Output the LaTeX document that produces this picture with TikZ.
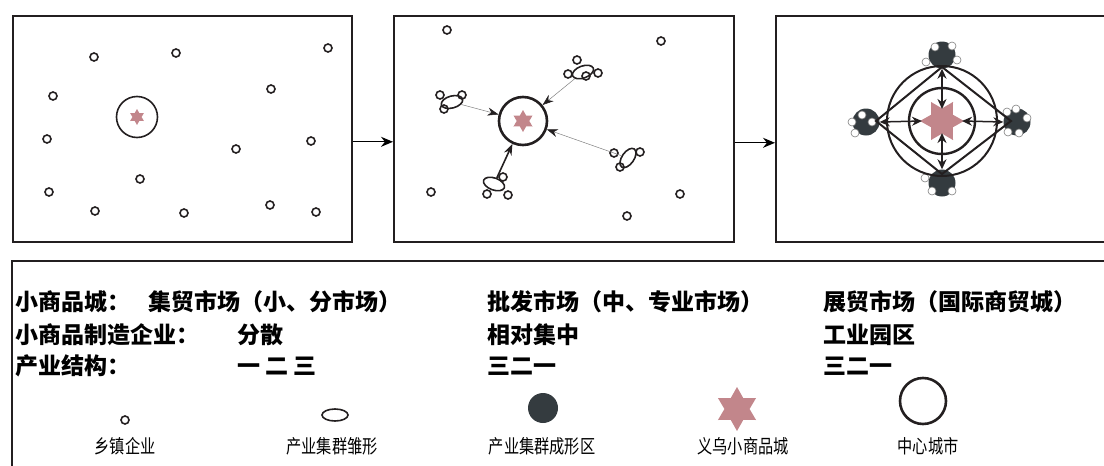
\documentclass[tikz,border=0pt]{standalone}
\usepackage{fontspec}
\newfontfamily\cjk{Noto Sans CJK SC}
\newfontfamily\cjkthin[FakeStretch=0.8]{Noto Sans CJK SC}
\usetikzlibrary{shapes,shapes.geometric,arrows,arrows.meta,positioning}

\definecolor{ink}{HTML}{231F20}
\definecolor{rose}{HTML}{C2868B}
\definecolor{slate}{HTML}{343B3F}

\begin{document}
\begin{tikzpicture}[%
    x=1pt, y=-1pt,
    >=stealth,
    panel/.style={draw=ink, line width=1.6pt, anchor=north west, inner sep=0,
      minimum width=339pt, minimum height=226pt},
    town/.style={circle, draw=ink, line width=1.6pt, minimum size=8pt, inner sep=0},
    hub/.style={circle, draw=ink, inner sep=0},
    yiwu/.style={star, star points=6, star point ratio=1.75, fill=rose, inner sep=0},
    embryo/.style={ellipse, draw=ink, line width=1.6pt, minimum width=22pt,
      minimum height=12pt, inner sep=0},
    cluster/.style={circle, fill=slate, minimum size=27pt, inner sep=0},
    dot/.style={circle, draw=gray, fill=white, line width=0.6pt, minimum size=8pt, inner sep=0},
    feed/.style={draw=gray, line width=0.5pt, -{Stealth[ink, length=11pt, width=8pt]}},
    spoke/.style={draw=ink, line width=1.5pt, {Stealth[length=10pt, width=9pt]}-{Stealth[length=10pt, width=9pt]}},
    rim/.style={draw=ink, line width=2pt},
    row/.style={anchor=west, inner sep=0, font=\cjk\bfseries\fontsize{23}{26}\selectfont},
    legend/.style={inner sep=0, font=\cjkthin\fontsize{19}{22}\selectfont}
  ]
  \useasboundingbox (0,0) rectangle (1104,466);

  % three stages
  \node[panel] (p1) at (12,15) {};
  \node[panel, minimum width=340pt] (p2) at (393,15) {};
  \node[panel, minimum width=360pt] (p3) at (775,15) {};

  \draw[line width=1.3pt, -{Stealth[length=12pt, width=10pt]}]
    ([yshift=-13pt]p1.east) -- ([yshift=-13pt]p2.west);
  \draw[line width=1.3pt, -{Stealth[length=12pt, width=10pt]}]
    ([yshift=-14pt]p2.east) -- ([yshift=-14pt]p3.west);

  % stage 1: scattered enterprises
  \foreach \x/\y [count=\i] in {94/57, 176/53, 328/48, 53/96, 271/89, 47/139, 236/149,
      311/141, 49/192, 140/179, 95/211, 184/213, 270/205, 316/212}
    \node[town] (a\i) at (\x,\y) {};
  \node[hub, line width=1.6pt, minimum size=41pt] (hub1) at (137,117) {};
  \node[yiwu, minimum size=16pt] (star1) at (137,117) {};

  % stage 2: clusters take shape
  \foreach \x/\y [count=\i] in {447/30, 661/41, 431/192, 680/194, 627/216}
    \node[town] (b\i) at (\x,\y) {};
  \node[hub, line width=2.6pt, minimum size=48pt] (hub2) at (523,121) {};
  \node[yiwu, minimum size=22pt] (star2) at (523,121) {};

  \node[embryo, rotate=15] (eA) at (452,102) {};
  \node[embryo, rotate=20] (eB) at (583,72) {};
  \node[embryo, rotate=55] (eC) at (628,158) {};
  \node[embryo, rotate=-20] (eD) at (494,184) {};
  \foreach \x/\y [count=\i] in {440/95, 462/95, 444/109, 577/60, 568/74, 586/76, 598/73,
      614/153, 640/152, 620/167, 503/177, 487/194, 508/195}
    \node[town] (c\i) at (\x,\y) {};

  \draw[feed] (eA) -- (hub2);
  \draw[feed] (eB) -- (hub2);
  \draw[feed] (eC) -- (hub2);
  \draw[line width=1.6pt, draw=ink, -{Stealth[length=11pt, width=8pt]}] (eD) -- (hub2);

  % stage 3: industrial parks
  \node[cluster] (ctop) at (942,55) {};
  \node[cluster] (cleft) at (866,122) {};
  \node[cluster] (cright) at (1017,122) {};
  \node[cluster] (cbot) at (942,183) {};
  \foreach \x/\y in {935/47, 952/46, 957/60, 926/62, 852/122, 862/115, 872/122, 855/133,
      1007/112, 1016/109, 1027/118, 1008/132, 1019/133, 925/178, 932/191, 952/191}
    \node[dot] at (\x,\y) {};

  \node[hub, line width=2pt, minimum size=110pt] (hub3) at (942,121) {};
  \node[hub, line width=2.4pt, minimum size=66pt] (ring3) at (942,121) {};
  \draw[rim] (942,67) -- (876,121) -- (942,174) -- (1011,121) -- cycle;
  \node[yiwu, rotate=30, minimum size=44pt] (star3) at (942,121) {};

  \draw[spoke] ([yshift=12pt]star3.center) -- (ctop.south);
  \draw[spoke] ([yshift=-12pt]star3.center) -- (cbot.north);
  \draw[spoke] ([xshift=-20pt]star3.center) -- (cleft.east);
  \draw[spoke] ([xshift=20pt]star3.center) -- (cright.west);

  % legend
  \draw[draw=ink, line width=1.6pt] (12,261) rectangle (1120,480);

  \node[row] (m1) at (15,302) {小商品城：};
  \node[row] (m2) at (148,302) {集贸市场（小、分市场）};
  \node[row] (m3) at (487,302) {批发市场（中、专业市场）};
  \node[row] (m4) at (823,302) {展贸市场（国际商贸城）};
  \node[row] (f1) at (15,335) {小商品制造企业：};
  \node[row] (f2) at (237,335) {分散};
  \node[row] (f3) at (487,335) {相对集中};
  \node[row] (f4) at (823,335) {工业园区};
  \node[row] (s1) at (15,366) {产业结构：};
  \node[row] (s2) at (237,366) {一\hspace{5pt}二\hspace{5pt}三};
  \node[row] (s3) at (487,366) {三二一};
  \node[row] (s4) at (823,366) {三二一};

  \node[town] (k1) at (125,420) {};
  \node[legend] (l1) at (125,446) {乡镇企业};
  \node[embryo, minimum width=26pt, minimum height=12pt] (k2) at (335,415) {};
  \node[legend] (l2) at (332,446) {产业集群雏形};
  \node[cluster, minimum size=30pt] (k3) at (543,408) {};
  \node[legend] (l3) at (542,446) {产业集群成形区};
  \node[yiwu, minimum size=44pt] (k4) at (737,409) {};
  \node[legend] (l4) at (743,446) {义乌小商品城};
  \node[hub, line width=2.6pt, minimum size=46pt] (k5) at (923,401) {};
  \node[legend] (l5) at (928,446) {中心城市};

\end{tikzpicture}
\end{document}
